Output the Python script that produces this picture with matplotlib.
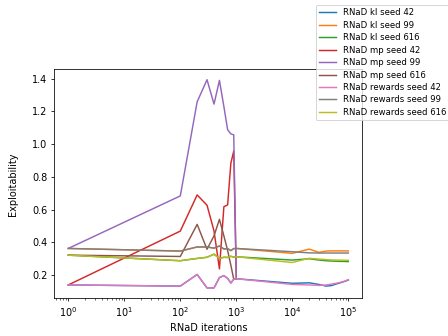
import matplotlib
matplotlib.use("Agg")
import matplotlib.pyplot as plt

# iterations at which exploitability was evaluated
iters_mp = [1, 100, 200, 300, 400, 500, 600, 700, 800, 900, 1000]
iters = iters_mp + [10000, 20000, 30000, 40000, 50000, 60000, 70000, 80000, 90000, 100000]

kl_42 = [0.140, 0.133, 0.204, 0.122, 0.122, 0.185, 0.197, 0.180, 0.152, 0.175, 0.178,
         0.150, 0.153, 0.143, 0.133, 0.136, 0.145, 0.152, 0.158, 0.164, 0.170]
kl_99 = [0.363, 0.347, 0.372, 0.372, 0.365, 0.378, 0.360, 0.362, 0.350, 0.362, 0.363,
         0.333, 0.359, 0.339, 0.347, 0.348, 0.348, 0.348, 0.348, 0.348, 0.348]
kl_616 = [0.322, 0.288, 0.302, 0.309, 0.328, 0.302, 0.309, 0.308, 0.315, 0.310, 0.312,
          0.292, 0.300, 0.292, 0.288, 0.286, 0.285, 0.284, 0.284, 0.283, 0.283]

mp_42 = [0.140, 0.469, 0.690, 0.627, 0.470, 0.238, 0.618, 0.629, 0.884, 0.958, 0.180]
mp_99 = [0.363, 0.684, 1.259, 1.394, 1.245, 1.390, 1.230, 1.088, 1.063, 1.057, 0.180]
mp_616 = [0.322, 0.314, 0.510, 0.358, 0.440, 0.541, 0.440, 0.350, 0.260, 0.175, 0.178]

rewards_42 = [0.140, 0.133, 0.204, 0.122, 0.122, 0.185, 0.197, 0.180, 0.152, 0.175, 0.178,
              0.143, 0.140, 0.137, 0.140, 0.145, 0.150, 0.155, 0.160, 0.166, 0.173]
rewards_99 = [0.363, 0.347, 0.372, 0.372, 0.365, 0.378, 0.360, 0.362, 0.350, 0.362, 0.363,
              0.343, 0.336, 0.335, 0.335, 0.335, 0.335, 0.335, 0.335, 0.335, 0.335]
rewards_616 = [0.322, 0.288, 0.302, 0.309, 0.328, 0.302, 0.309, 0.308, 0.315, 0.310, 0.312,
               0.277, 0.303, 0.298, 0.295, 0.293, 0.292, 0.292, 0.291, 0.291, 0.291]

runs = [
    ("RNaD kl seed 42", iters, kl_42),
    ("RNaD kl seed 99", iters, kl_99),
    ("RNaD kl seed 616", iters, kl_616),
    ("RNaD mp seed 42", iters_mp, mp_42),
    ("RNaD mp seed 99", iters_mp, mp_99),
    ("RNaD mp seed 616", iters_mp, mp_616),
    ("RNaD rewards seed 42", iters, rewards_42),
    ("RNaD rewards seed 99", iters, rewards_99),
    ("RNaD rewards seed 616", iters, rewards_616),
]

fig, ax = plt.subplots(figsize=(6.4, 4.8), dpi=70)
for label, x, y in runs:
    ax.plot(x, y, label=label)

ax.set_xscale("log")
ax.set_xlabel("RNaD iterations")
ax.set_ylabel("Exploitability", labelpad=15)
ax.set_position([54.3 / 448, 1 - 298.3 / 336, 308 / 448, 229 / 336])

ax.legend(loc="upper left", bbox_to_anchor=(315.7 / 448, 1 - 5 / 336),
          bbox_transform=fig.transFigure, borderaxespad=0, fontsize=8.8,
          labelspacing=0.4)

fig.savefig("out.png", dpi=70)
